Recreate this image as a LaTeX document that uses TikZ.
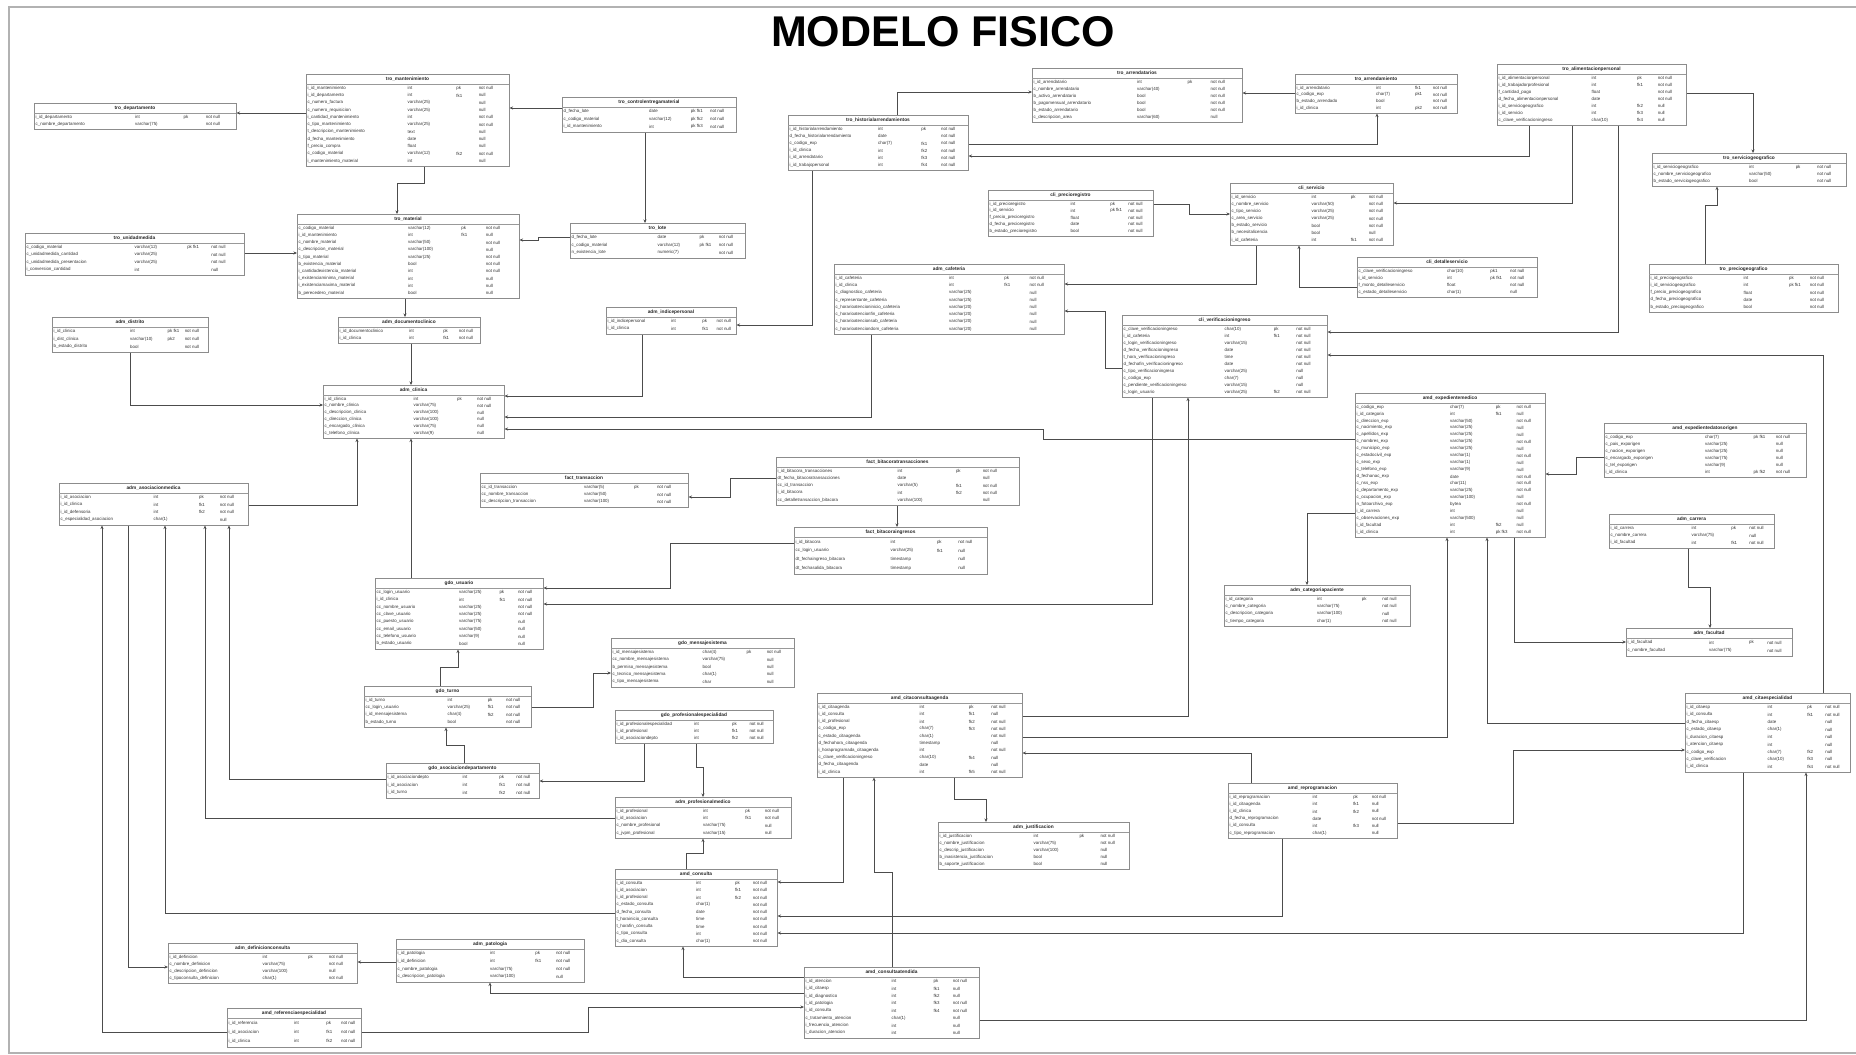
\documentclass[tikz,border=0pt]{standalone}
\usepackage{fontspec}
\setmainfont{Liberation Sans}
\usetikzlibrary{arrows.meta}
\catcode`\_=12
\tikzset{
 tbl/.style={draw=black!45, line width=0.5pt, fill=white, inner sep=0pt, rectangle},
 ttl/.style={font=\fontsize{4.8}{5}\selectfont\bfseries, text=black!85, inner sep=0pt},
 cell/.style={font=\fontsize{4.4}{5}\selectfont, text=black!80, inner sep=0pt, anchor=west},
 sep/.style={draw=black!40, line width=0.4pt},
 fk/.style={draw=black!70, line width=0.6pt, -{Stealth[length=3.5pt,width=3pt]}},
 frame/.style={draw=black!30, line width=1.5pt},
 heading/.style={font=\fontsize{43}{43}\selectfont\bfseries, inner sep=0pt}
}
% #1 name, #2 x1, #3 y1, #4 x2, #5 y2, #6 title, #7 rows count, #8 rows
\newcommand\dbt[8]{%
  \node[tbl, minimum width={#4-#2}, minimum height={#5-#3}, anchor=north west] (#1) at (#2,#3) {};
  \node[ttl] (#1-title) at ({(#2+#4)/2},{#3+5.5}) {#6};
  \draw[sep] (#2,#3+10) -- (#4,#3+10);
  \pgfmathsetmacro\myrowh{(#5-#3-12)/#7}%
  \pgfmathsetmacro\mytw{#4-#2}%
  \foreach \a/\b/\c/\d [count=\i] in {#8}{%
    \pgfmathsetmacro\myyy{#3+10.5+(\i-0.5)*\myrowh}%
    \node[cell] (#1-\i-a) at (#2+1.5,\myyy) {\a};
    \node[cell] (#1-\i-b) at (#2+0.50*\mytw,\myyy) {\b};
    \node[cell] (#1-\i-c) at (#2+0.74*\mytw,\myyy) {\c};
    \node[cell] (#1-\i-d) at (#2+0.85*\mytw,\myyy) {\d};
  }%
}
\begin{document}
\begin{tikzpicture}[x=1pt,y=-1pt]
\useasboundingbox (0,0) rectangle (1856,1055);
\fill[white] (0,0) rectangle (1856,1055);
\draw[frame] (1860,7) -- (9,7) -- (9,1053) -- (1860,1053);
\node[heading] (heading) at (943,32) {MODELO FISICO};

\dbt{dep}{34}{103}{236}{129}{tro_departamento}{2}{i_id_departamento/int/pk/not null, c_nombre_departamento/varchar(75)//not null}
\dbt{mant}{306}{74}{509}{166}{tro_mantenimiento}{11}{i_id_mantenimiento/int/pk/not null, i_id_departamento/int/fk1/null, c_numero_factura/varchar(25)//null, c_numero_requisicion/varchar(25)//null, i_cantidad_mantenimiento/int//not null, c_tipo_mantenimiento/varchar(25)//not null, t_descripcion_mantenimiento/text//null, d_fecha_mantenimiento/date//null, f_precio_compra/float//null, c_codigo_material/varchar(12)/fk2/not null, i_mantenimiento_material/int//null}
\dbt{ctrl}{562}{97}{736}{132}{tro_controlentregamaterial}{3}{d_fecha_lote/date/pk fk1/not null, c_codigo_material/varchar(12)/pk fk2/not null, i_id_mantenimiento/int/pk fk3/not null}
\dbt{his}{788}{115}{968}{170}{tro_historialarrendamientos}{6}{i_id_historialarrendamiento/int/pk/not null, d_fecha_historialarrendamiento/date//not null, c_codigo_exp/char(7)/fk1/not null, i_id_clinica/int/fk2/not null, i_id_arrendatario/int/fk3/not null, i_id_trabajopersonal/int/fk4/not null}
\dbt{arr}{1032}{68}{1242}{122}{tro_arrendatarios}{6}{i_id_arrendatario/int/pk/not null, c_nombre_arrendatario/varchar(40)//not null, b_activo_arrendatario/bool//not null, b_pagomensual_arrendatario/bool//not null, b_estado_arrendatario/bool//not null, c_descripcion_area/varchar(60)//null}
\dbt{arm}{1295}{74}{1457}{113}{tro_arrendamiento}{4}{i_id_arrendatario/int/fk1/not null, c_codigo_exp/char(7)/pk1/not null, b_estado_arrendado/bool//not null, i_id_clinica/int/pk2/not null}
\dbt{ali}{1497}{64}{1686}{125}{tro_alimentacionpersonal}{7}{i_id_alimentacionpersonal/int/pk/not null, i_id_trabajadorprofesional/int/fk1/not null, f_cantidad_pago/float//not null, d_fecha_alimentacionpersonal/date//not null, i_id_serviciogeografico/int/fk2/null, i_id_servicio/int/fk3/null, c_clave_verificacioningreso/char(10)/fk4/null}
\dbt{sgeo}{1652}{153}{1846}{186}{tro_serviciogeografico}{3}{i_id_serviciogeografico/int/pk/not null, c_nombre_serviciogeografico/varchar(50)//not null, b_estado_serviciogeografico/bool//not null}
\dbt{pgeo}{1649}{264}{1838}{312}{tro_preciogeografico}{5}{i_id_preciogeografico/int/pk/not null, i_id_serviciogeografico/int/pk fk1/not null, f_precio_preciogeografico/float//not null, d_fecha_preciogeografico/date//not null, b_estado_preciogeografico/bool//not null}
\dbt{uni}{25}{233}{244}{275}{tro_unidadmedida}{4}{c_codigo_material/varchar(12)/pk fk1/not null, c_unidadmedida_cantidad/varchar(25)//not null, c_unidadmedida_presentacion/varchar(25)//not null, i_conversion_cantidad/int//null}
\dbt{mat}{297}{214}{519}{298}{tro_material}{10}{c_codigo_material/varchar(12)/pk/not null, i_id_mantenimiento/int/fk1/null, c_nombre_material/varchar(50)//not null, c_descripcion_material/varchar(100)//null, c_tipo_material/varchar(25)//not null, b_existencia_material/bool//not null, i_cantidadexistencia_material/int//not null, i_existenciaminima_material/int//null, i_existenciamaxima_material/int//null, b_perecedero_material/bool//null}
\dbt{lote}{570}{223}{745}{258}{tro_lote}{3}{d_fecha_lote/date/pk/not null, c_codigo_material/varchar(12)/pk fk1/not null, n_existencia_lote/numeric(7)//not null}
\dbt{preg}{988}{190}{1153}{236}{cli_precioregistro}{5}{i_id_precioregistro/int/pk/not null, i_id_servicio/int/pk fk1/not null, f_precio_precioregistro/float//not null, d_fecha_precioregistro/date//not null, b_estado_precioregistro/bool//not null}
\dbt{ser}{1230}{183}{1393}{245}{cli_servicio}{7}{i_id_servicio/int/pk/not null, c_nombre_servicio/varchar(50)//not null, c_tipo_servicio/varchar(25)//not null, c_area_servicio/varchar(25)//not null, b_estado_servicio/bool//not null, b_necesitalicencia/bool//null, i_id_cafeteria/int/fk1/not null}
\dbt{det}{1357}{257}{1537}{297}{cli_detalleservicio}{4}{c_clave_verificacioningreso/char(10)/pk1/not null, i_id_servicio/int/pk fk1/not null, f_monto_detalleservicio/float//not null, c_estado_detalleservicio/char(1)//null}
\dbt{caf}{834}{264}{1064}{334}{adm_cafeteria}{8}{i_id_cafeteria/int/pk/not null, i_id_clinica/int/fk1/not null, c_diagnostico_cafeteria/varchar(25)//null, c_representante_cafeteria/varchar(25)//null, c_horarioatencioninicio_cafeteria/varchar(20)//null, c_horarioatencionfin_cafeteria/varchar(20)//null, c_horarioatencionsab_cafeteria/varchar(20)//null, c_horarioatenciondom_cafeteria/varchar(20)//null}
\dbt{ind}{606}{307}{736}{334}{adm_indicepersonal}{2}{i_id_indicepersonal/int/pk/not null, i_id_clinica/int/fk1/not null}
\dbt{ver}{1122}{315}{1327}{397}{cli_verificacioningreso}{10}{c_clave_verificacioningreso/char(10)/pk/not null, i_id_cafeteria/int/fk1/not null, c_login_verificacioningreso/varchar(15)//not null, d_fecha_verificacioningreso/date//not null, t_hora_verificacioningreso/time//not null, d_fechafin_verificacioningreso/date//not null, c_tipo_verificacioningreso/varchar(25)//null, c_codigo_exp/char(7)//null, c_pendiente_verificacioningreso/varchar(15)//null, c_login_usuario/varchar(25)/fk2/not null}
\dbt{dis}{52}{317}{208}{352}{adm_distrito}{3}{i_id_clinica/int/pk fk1/not null, i_dist_clinica/varchar(10)/pk2/not null, b_estado_distrito/bool//not null}
\dbt{doc}{338}{317}{480}{343}{adm_documentoclinico}{2}{i_id_documentoclinico/int/pk/not null, i_id_clinica/int/fk1/not null}
\dbt{cli}{323}{385}{504}{438}{adm_clinica}{6}{i_id_clinica/int/pk/not null, c_nombre_clinica/varchar(75)//not null, c_descripcion_clinica/varchar(100)//null, c_direccion_clinica/varchar(100)//null, c_encargado_clinica/varchar(75)//null, c_telefono_clinica/varchar(9)//null}
\dbt{exp}{1355}{393}{1545}{537}{amd_expedientemedico}{19}{c_codigo_exp/char(7)/pk/not null, i_id_categoria/int/fk1/null, c_direccion_exp/varchar(50)//not null, c_nacimiento_exp/varchar(25)//null, c_apellidos_exp/varchar(25)//null, c_nombres_exp/varchar(25)//not null, c_municipio_exp/varchar(25)//null, c_estadocivil_exp/varchar(1)//not null, c_sexo_exp/varchar(1)//null, c_telefono_exp/varchar(9)//null, d_fechanac_exp/date//not null, c_nss_exp/char(11)//not null, c_departamento_exp/varchar(25)//not null, c_ocupacion_exp/varchar(100)//null, n_fotoarchivo_exp/bytea//not null, i_id_carrera/int//null, c_observaciones_exp/varchar(500)//null, i_id_facultad/int/fk2/null, i_id_clinica/int/pk fk3/not null}
\dbt{expo}{1604}{423}{1806}{477}{amd_expedientedatosorigen}{6}{c_codigo_exp/char(7)/pk fk1/not null, c_pais_exporigen/varchar(25)//null, c_nacion_exporigen/varchar(25)//null, c_encargado_exporigen/varchar(75)//null, c_tel_exporigen/varchar(9)//null, i_id_clinica/int/pk fk2/not null}
\dbt{aso}{59}{483}{248}{525}{adm_asociacionmedica}{4}{i_id_asociacion/int/pk/not null, i_id_clinica/int/fk1/not null, i_id_defensoria/int/fk2/not null, c_especialidad_asociacion/char(1)//null}
\dbt{ftr}{480}{473}{688}{507}{fact_transaccion}{3}{cc_id_transaccion/varchar(5)/pk/not null, cc_nombre_transaccion/varchar(50)//not null, cc_descripcion_transaccion/varchar(100)//not null}
\dbt{fhis}{776}{457}{1019}{505}{fact_bitacoratransacciones}{5}{i_id_bitacora_transacciones/int/pk/not null, dt_fecha_bitacoratransacciones/date//null, cc_id_transaccion/varchar(5)/fk1/not null, i_id_bitacora/int/fk2/not null, cc_detalletransaccion_bitacora/varchar(100)//null}
\dbt{bit}{794}{527}{987}{574}{fact_bitacoraingresos}{4}{i_id_bitacora/int/pk/not null, cc_login_usuario/varchar(25)/fk1/null, dt_fechaingreso_bitacora/timestamp//null, dt_fechasalida_bitacora/timestamp//null}
\dbt{car}{1609}{514}{1774}{548}{adm_carrera}{3}{i_id_carrera/int/pk/not null, c_nombre_carrera/varchar(75)//null, i_id_facultad/int/fk1/not null}
\dbt{cpac}{1224}{585}{1410}{626}{adm_categoriapaciente}{4}{i_id_categoria/int/pk/not null, c_nombre_categoria/varchar(75)//not null, c_descripcion_categoria/varchar(100)//null, c_tiempo_categoria/char(1)//not null}
\dbt{usu}{375}{578}{543}{649}{gdo_usuario}{8}{cc_login_usuario/varchar(25)/pk/not null, i_id_clinica/int/fk1/not null, cc_nombre_usuario/varchar(25)//not null, cc_clave_usuario/varchar(25)//not null, cc_puesto_usuario/varchar(75)//null, cc_email_usuario/varchar(50)//null, cc_telefono_usuario/varchar(9)//null, b_estado_usuario/bool//null}
\dbt{msg}{611}{638}{794}{687}{gdo_mensajesistema}{5}{i_id_mensajesistema/char(4)/pk/not null, cc_nombre_mensajesistema/varchar(75)//null, b_permiso_mensajesistema/bool//null, c_tecnico_mensajesistema/char(1)//null, c_tipo_mensajesistema/char//null}
\dbt{fac}{1626}{628}{1792}{656}{adm_facultad}{2}{i_id_facultad/int/pk/not null, c_nombre_facultad/varchar(75)//not null}
\dbt{tur}{364}{686}{531}{727}{gdo_turno}{4}{i_id_turno/int/pk/not null, cc_login_usuario/varchar(25)/fk1/not null, i_id_mensajesistema/char(4)/fk2/not null, b_estado_turno/bool//not null}
\dbt{pesp}{615}{710}{773}{743}{gdo_profesionalespecialidad}{3}{i_id_profesionalespecialidad/int/pk/not null, i_id_profesional/int/fk1/not null, i_id_asociaciondepto/int/fk2/not null}
\dbt{cita}{817}{693}{1022}{777}{amd_citaconsultaagenda}{10}{i_id_citaagenda/int/pk/not null, i_id_consulta/int/fk1/null, i_id_profesional/int/fk2/not null, c_codigo_exp/char(7)/fk3/not null, c_estado_citaagenda/char(1)//not null, d_fechahora_citaagenda/timestamp//null, i_horaprogramada_citaagenda/int//not null, c_clave_verificacioningreso/char(10)/fk4/null, d_fecha_citaagenda/date//null, i_id_clinica/int/fk5/not null}
\dbt{cesp}{1685}{693}{1850}{772}{amd_citaespecialidad}{9}{i_id_citaesp/int/pk/not null, i_id_consulta/int/fk1/not null, d_fecha_citaesp/date//null, c_estado_citaesp/char(1)//null, i_duracion_citaesp/int//null, i_atencion_citaesp/int//null, c_codigo_exp/char(7)/fk2/null, c_clave_verificacion/char(10)/fk3/null, i_id_clinica/int/fk4/not null}
\dbt{adep}{386}{763}{539}{798}{gdo_asociaciondepartamento}{3}{i_id_asociaciondepto/int/pk/not null, i_id_asociacion/int/fk1/not null, i_id_turno/int/fk2/not null}
\dbt{pro}{615}{797}{791}{838}{adm_profesionalmedico}{4}{i_id_profesional/int/pk/not null, i_id_asociacion/int/fk1/not null, c_nombre_profesional/varchar(75)//null, c_jvpm_profesional/varchar(15)//null}
\dbt{rep}{1228}{783}{1397}{838}{amd_reprogramacion}{6}{i_id_reprogramacion/int/pk/not null, i_id_citaagenda/int/fk1/null, i_id_clinica/int/fk2/null, d_fecha_reprogramacion/date//not null, i_id_consulta/int/fk3/null, c_tipo_reprogramacion/char(1)//null}
\dbt{jus}{938}{822}{1129}{869}{adm_justificacion}{5}{i_id_justificacion/int/pk/not null, c_nombre_justificacion/varchar(75)//not null, c_descrip_justificacion/varchar(100)//null, b_inasistencia_justificacion/bool//null, b_soporte_justificacion/bool//null}
\dbt{con}{615}{869}{777}{946}{amd_consulta}{9}{i_id_consulta/int/pk/not null, i_id_asociacion/int/fk1/not null, i_id_profesional/int/fk2/not null, c_estado_consulta/char(1)//not null, d_fecha_consulta/date//not null, t_horainicio_consulta/time//not null, t_horafin_consulta/time//not null, c_tipo_consulta/int//not null, c_dia_consulta/char(1)//not null}
\dbt{def}{168}{943}{357}{983}{adm_definicionconsulta}{4}{i_id_definicion/int/pk/not null, c_nombre_definicion/varchar(75)//not null, c_descripcion_definicion/varchar(100)//null, c_tipoconsulta_definicion/char(1)//not null}
\dbt{pat}{396}{939}{584}{982}{adm_patologia}{4}{i_id_patologia/int/pk/not null, i_id_definicion/int/fk1/not null, c_nombre_patologia/varchar(75)//not null, c_descripcion_patologia/varchar(100)//null}
\dbt{ref}{227}{1008}{361}{1047}{amd_referenciaespecialidad}{3}{i_id_referencia/int/pk/not null, i_id_asociacion/int/fk1/not null, i_id_clinica/int/fk2/not null}
\dbt{cate}{804}{967}{979}{1038}{amd_consultaatendida}{8}{i_id_atencion/int/pk/not null, i_id_citaesp/int/fk1/null, i_id_diagnostico/int/fk2/null, i_id_patologia/int/fk3/not null, i_id_consulta/int/fk4/not null, c_tratamiento_atencion/char(1)//null, i_frecuencia_atencion/int//null, i_duracion_atencion/int//null}

% connectors
\draw[fk] (mant.west |- 0,113) -- (dep.east |- 0,113);
\draw[fk] (ctrl.west |- 0,108) -- (mant.east |- 0,108);
\draw[fk] (424,0 |- mant.south) -- (424,183) -- (397,183) -- (397,0 |- mat.north);
\draw[fk] (uni.east |- 0,253) -- (mat.west |- 0,253);
\draw[fk] (lote.west |- 0,237) -- (538,237) -- (538,240) -- (mat.east |- 0,240);
\draw[fk] (645,0 |- ctrl.south) -- (645,0 |- lote.north);
\draw[fk] (405,0 |- mat.south) -- (405,0 |- doc.north);
\draw[fk] (411,0 |- doc.south) -- (411,0 |- cli.north);
\draw[fk] (130,0 |- dis.south) -- (130,405) -- (cli.west |- 0,405);
\draw[fk] (aso.east |- 0,505) -- (357,505) -- (357,0 |- cli.south);
\draw[fk] (411,0 |- usu.north) -- (411,0 |- cli.south);
\draw[fk] (812,0 |- his.south) -- (812,325) -- (ind.east |- 0,325);
\draw[fk] (642,0 |- ind.south) -- (642,396) -- (cli.east |- 0,396);
\draw[fk] (871,0 |- caf.south) -- (871,417) -- (cli.east |- 0,417);
\draw[fk] (exp.west |- 0,439) -- (1043,439) -- (1043,429) -- (cli.east |- 0,429);
\draw[fk] (897,0 |- his.north) -- (897,92) -- (arr.west |- 0,92);
\draw[fk] (arm.west |- 0,93) -- (arr.east |- 0,93);
\draw[fk] (his.east |- 0,144) -- (1377,144) -- (1377,0 |- arm.south);
\draw[fk] (1529,0 |- ali.south) -- (1529,156) -- (his.east |- 0,156);
\draw[fk] (1572,0 |- ali.south) -- (1572,203) -- (ser.east |- 0,203);
\draw[fk] (1618,0 |- ali.south) -- (1618,332) -- (ver.east |- 0,332);
\draw[fk] (ali.east |- 0,93) -- (1753,93) -- (1753,0 |- sgeo.north);
\draw[fk] (1705,0 |- pgeo.north) -- (1705,205) -- (1717,205) -- (1717,0 |- sgeo.south);
\draw[fk] (preg.east |- 0,204) -- (1189,204) -- (1189,214) -- (ser.west |- 0,214);
\draw[fk] (det.west |- 0,287) -- (1299,287) -- (1299,0 |- ser.south);
\draw[fk] (1256,0 |- ser.south) -- (1256,284) -- (caf.east |- 0,284);
\draw[fk] (ver.west |- 0,368) -- (1105,368) -- (1105,311) -- (caf.east |- 0,311);
\draw[fk] (fhis.west |- 0,478) -- (730,478) -- (730,497) -- (ftr.east |- 0,497);
\draw[fk] (897,0 |- fhis.south) -- (897,0 |- bit.north);
\draw[fk] (bit.west |- 0,543) -- (670,543) -- (670,588) -- (usu.east |- 0,588);
\draw[fk] (1152,0 |- ver.south) -- (1152,604) -- (usu.east |- 0,604);
\draw[fk] (cita.east |- 0,716) -- (1188,716) -- (1188,0 |- ver.south);
\draw[fk] (exp.west |- 0,513) -- (1307,513) -- (1307,0 |- cpac.north);
\draw[fk] (expo.west |- 0,457) -- (1576,457) -- (1576,474) -- (exp.east |- 0,474);
\draw[fk] (1688,0 |- car.south) -- (1688,587) -- (1710,587) -- (1710,0 |- fac.north);
\draw[fk] (1514,0 |- exp.south) -- (1514,642) -- (fac.west |- 0,642);
\draw[fk] (cesp.west |- 0,723) -- (1487,723) -- (1487,0 |- exp.south);
\draw[fk] (cita.east |- 0,737) -- (1447,737) -- (1447,0 |- exp.south);
\draw[fk] (1251,0 |- rep.north) -- (1251,753) -- (cita.east |- 0,753);
\draw[fk] (rep.east |- 0,823) -- (1513,823) -- (1513,750) -- (cesp.west |- 0,750);
\draw[fk] (1282,0 |- rep.south) -- (1282,916) -- (con.east |- 0,916);
\draw[fk] (1743,0 |- cesp.south) -- (1743,933) -- (con.east |- 0,933);
\draw[fk] (cate.east |- 0,1020) -- (1806,1020) -- (1806,0 |- cesp.south);
\draw[fk] (1823,0 |- cesp.north) -- (1823,355) -- (ver.east |- 0,355);
\draw[fk] (843,0 |- cita.south) -- (843,882) -- (con.east |- 0,882);
\draw[fk] (892,0 |- cate.north) -- (892,872) -- (874,872) -- (874,0 |- cita.south);
\draw[fk] (954,0 |- cita.south) -- (954,799) -- (986,799) -- (986,0 |- jus.north);
\draw[fk] (440,0 |- tur.north) -- (440,667) -- (458,667) -- (458,0 |- usu.south);
\draw[fk] (tur.east |- 0,707) -- (593,707) -- (593,673) -- (msg.west |- 0,673);
\draw[fk] (464,0 |- adep.north) -- (464,745) -- (446,745) -- (446,0 |- tur.south);
\draw[fk] (adep.west |- 0,779) -- (229,779) -- (229,0 |- aso.south);
\draw[fk] (644,0 |- pesp.south) -- (644,781) -- (adep.east |- 0,781);
\draw[fk] (696,0 |- pesp.south) -- (696,767) -- (703,767) -- (703,0 |- pro.north);
\draw[fk] (pro.west |- 0,818) -- (205,818) -- (205,0 |- aso.south);
\draw[fk] (con.west |- 0,913) -- (165,913) -- (165,0 |- aso.south);
\draw[fk] (128,0 |- aso.south) -- (128,967) -- (def.west |- 0,967);
\draw[fk] (ref.west |- 0,1032) -- (102,1032) -- (102,0 |- aso.south);
\draw[fk] (pat.west |- 0,962) -- (def.east |- 0,962);
\draw[fk] (cate.west |- 0,993) -- (490,993) -- (490,0 |- pat.south);
\draw[fk] (cate.west |- 0,977) -- (683,977) -- (683,0 |- con.south);
\draw[fk] (ref.east |- 0,1032) -- (588,1032) -- (588,1007) -- (cate.west |- 0,1007);
\draw[fk] (686,0 |- con.north) -- (686,853) -- (703,853) -- (703,0 |- pro.south);
\end{tikzpicture}
\end{document}
